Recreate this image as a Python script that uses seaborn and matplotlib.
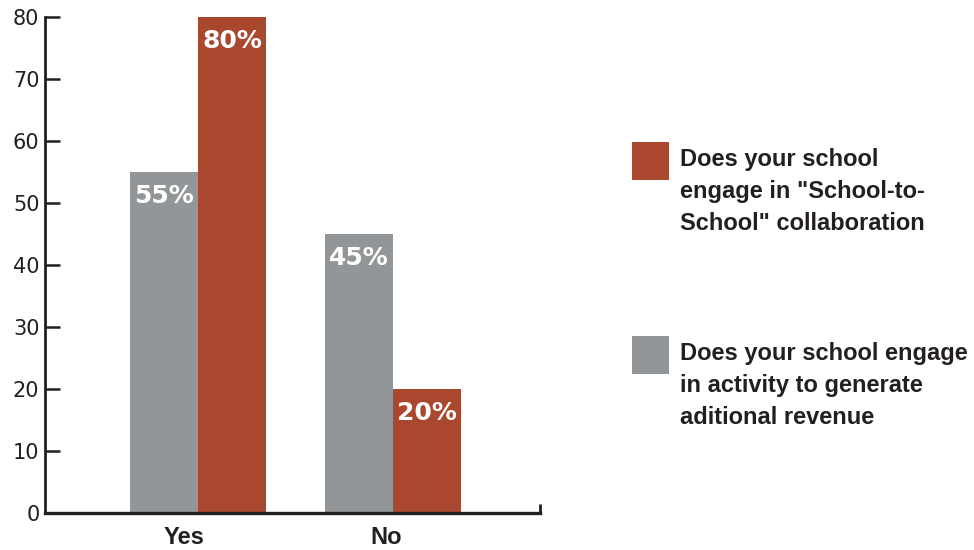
import matplotlib
matplotlib.use("Agg")
import matplotlib.pyplot as plt
from matplotlib.patches import Rectangle
from matplotlib.transforms import ScaledTranslation
import seaborn as sns
import pandas as pd

# Survey answers and the share of schools giving each answer
answers = ["Yes", "No"]
revenue_pct = [55, 45]        # engage in activity to generate additional revenue
collab_pct = [80, 20]         # engage in school-to-school collaboration
series_names = [
    "Does your school engage\nin activity to generate\naditional revenue",
    "Does your school\nengage in \"School-to-\nSchool\" collaboration",
]
y_ticks = [0, 10, 20, 30, 40, 50, 60, 70, 80]

GRAY = "#939698"
RED = "#A9472F"
INK = "#231F20"

df = pd.DataFrame({
    "answer": answers * 2,
    "pct": revenue_pct + collab_pct,
    "series": [series_names[0]] * 2 + [series_names[1]] * 2,
})

sns.set_theme(style="white")
bold_font = ["Liberation Sans", "DejaVu Sans"]
plt.rcParams["font.family"] = ["DejaVu Sans"]

fig = plt.figure(figsize=(9.74, 5.5), dpi=100)
ax = fig.add_axes([45 / 974, 37 / 550, (540 - 45) / 974, (513 - 17) / 550])

palette = {series_names[0]: GRAY, series_names[1]: RED}
sns.barplot(data=df, x="answer", y="pct", hue="series", order=answers,
            hue_order=series_names, palette=palette, width=0.70,
            saturation=1, legend=False, linewidth=0, ax=ax)

ax.set_ylim(0, 80)
ax.set_xlim(-0.785, 1.754)
ax.set_yticks(y_ticks)
ax.set_xlabel("")
ax.set_ylabel("")

for side in ("top", "right"):
    ax.spines[side].set_visible(False)
ax.spines["left"].set_color(INK)
ax.spines["left"].set_linewidth(2.0)
ax.spines["bottom"].set_color(INK)
ax.spines["bottom"].set_linewidth(2.4)

ax.tick_params(axis="y", direction="in", length=11, width=1.8, color=INK,
               labelsize=15, labelcolor=INK, pad=4, left=True)
ax.tick_params(axis="x", length=0, pad=9, labelcolor=INK)
for lbl, dx in zip(ax.get_xticklabels(), (-14, -7)):
    lbl.set_fontfamily(bold_font)
    lbl.set_fontweight("bold")
    lbl.set_fontsize(17)
    lbl.set_transform(lbl.get_transform() + ScaledTranslation(dx / 100, 0, fig.dpi_scale_trans))

# small upturned end of the baseline
ax.plot([1, 1], [0, 0.018], transform=ax.transAxes, color=INK, lw=2.0,
        clip_on=False, solid_capstyle="butt")

# value labels inside the top of every bar
for container in ax.containers:
    labels = [f"{int(round(b.get_height()))}%" for b in container]
    ax.bar_label(container, labels=labels, label_type="edge", padding=-26,
                 color="white", fontsize=18, fontweight="bold",
                 fontfamily="DejaVu Sans")

# legend: swatch aligned with the first line of its caption
legend_items = [(series_names[1], RED, 142), (series_names[0], GRAY, 336)]
for text, color, top in legend_items:
    fig.add_artist(Rectangle((632 / 974, 1 - (top + 38) / 550), 37 / 974, 38 / 550,
                             transform=fig.transFigure, color=color, lw=0))
    fig.text(680 / 974, 1 - (top + 6) / 550, text, ha="left", va="top",
             fontsize=17, fontweight="bold", family=bold_font, color=INK,
             linespacing=1.5)

fig.savefig("out.png", dpi=100)
